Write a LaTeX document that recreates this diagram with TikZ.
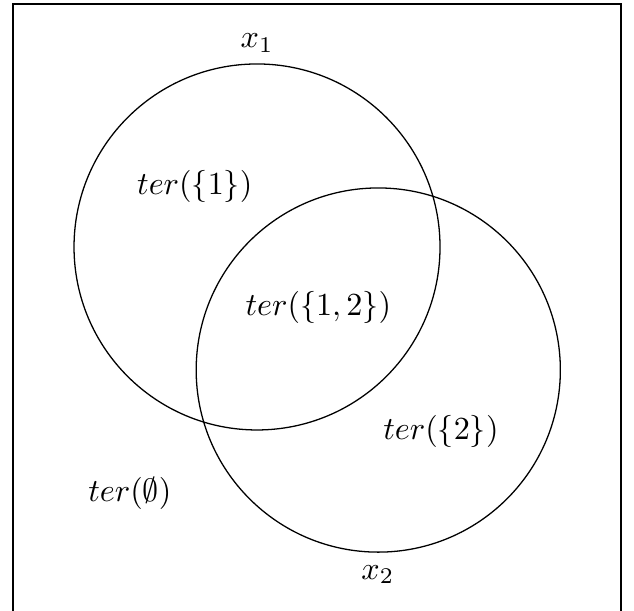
\documentclass[tikz,border=0pt]{standalone}
\begin{document}
\begin{tikzpicture}[x=1cm,y=1cm, lbl/.style={inner sep=0pt}]
\useasboundingbox (-2.809,-3.978) rectangle (4.12,2.699);
\clip (-2.809,-3.978) rectangle (4.12,2.699);
\draw (-2.667,-4.2) rectangle (3.978,2.656);
\node[circle, draw, minimum size=4cm, inner sep=0pt] (c1) at (0,0) {};
\node[circle, draw, minimum size=3.98cm, inner sep=0pt] (c2) at (1.325,-1.345) {};
\node[lbl] (x1) at (0,2.23) {$x_1$};
\node[lbl] (x2) at (1.32,-3.58) {$x_2$};
\node[lbl] (t1) at (-0.68,0.66) {$ter(\{1\})$};
\node[lbl] (t12) at (0.67,-0.66) {$ter(\{1,2\})$};
\node[lbl] (t2) at (2.01,-2.02) {$ter(\{2\})$};
\node[lbl] (t0) at (-1.39,-2.69) {$ter(\emptyset)$};
\end{tikzpicture}
\end{document}
